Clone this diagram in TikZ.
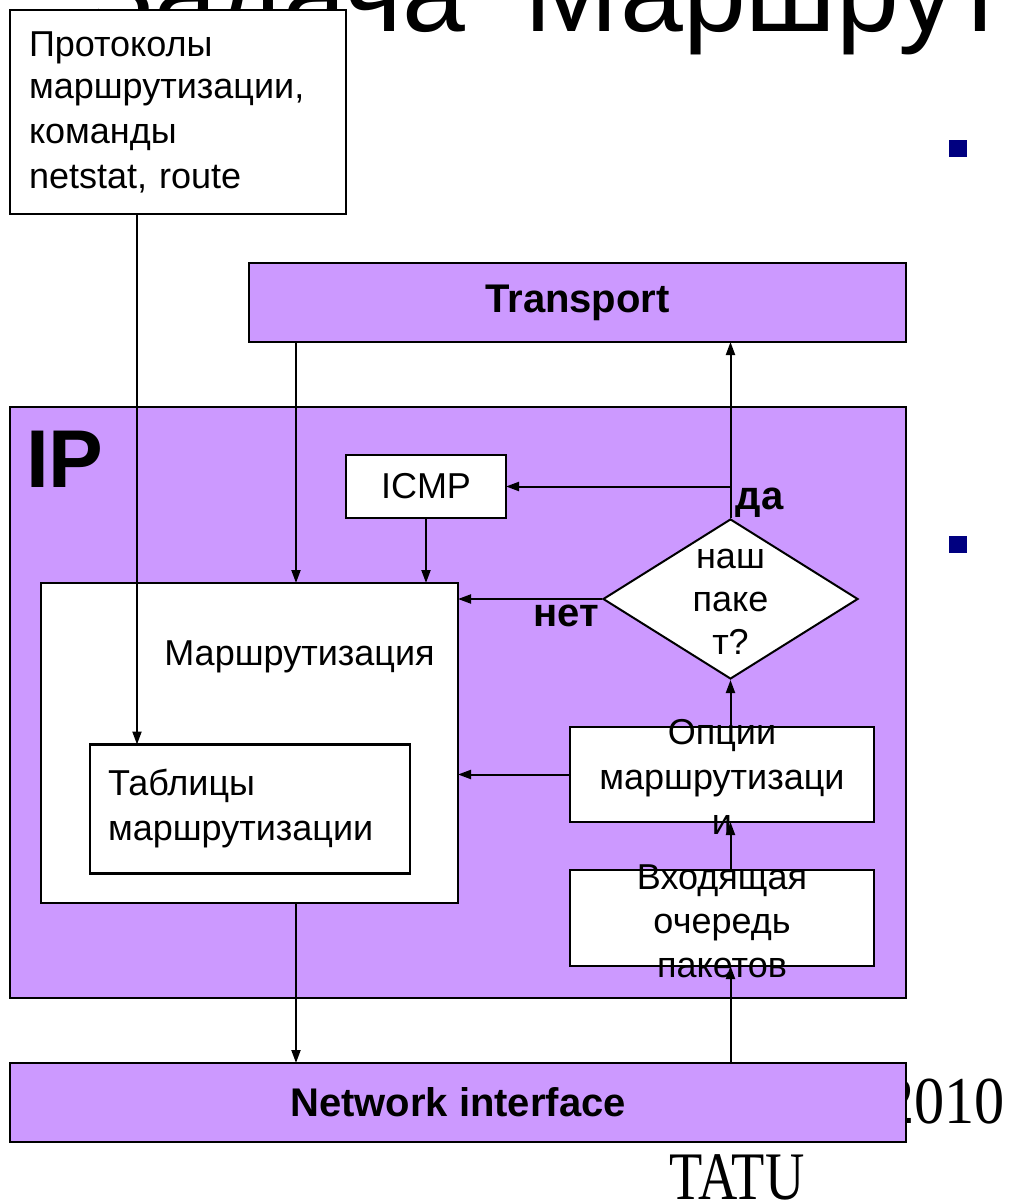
\documentclass[tikz,border=0pt]{standalone}
\usepackage{fontspec}
\setmainfont{Liberation Sans}
\newfontfamily\timesfont{Liberation Serif}
\usetikzlibrary{shapes.geometric,arrows.meta,positioning}
\definecolor{ipviolet}{HTML}{CC99FF}
\definecolor{bulletnavy}{HTML}{000080}

\begin{document}
\begin{tikzpicture}[x=1pt, y=-1pt,
    slidebox/.style={draw, line width=2.5pt, inner sep=0pt, outer sep=0pt},
    layerbox/.style={slidebox, fill=ipviolet, font=\fontsize{40}{48}\selectfont\bfseries},
    whitebox/.style={slidebox, fill=white, font=\fontsize{36}{45}\selectfont},
    flow/.style={-{Triangle[length=13pt, width=9pt]}, line width=2pt},
    answer/.style={font=\fontsize{40}{48}\selectfont\bfseries, inner sep=0pt}]

  \useasboundingbox (0,0) rectangle (1011,1202);
  \clip (0,0) rectangle (1011,1202);

  %% Slide title, mostly hidden
  \node[anchor=base west, inner sep=0pt, font=\fontsize{113}{120}\selectfont]
    (title) at (86,31) {Задача\hspace{0.25em} Маршрутизации};

  %% Slide bullets and footer
  \fill[bulletnavy] (949,140) rectangle (967,157);
  \fill[bulletnavy] (949,536) rectangle (967,553);
  \node[anchor=base east, inner sep=0pt, xscale=0.9,
        font=\timesfont\fontsize{67}{72}\selectfont] (year) at (1005,1123) {2010};
  \node[anchor=base, inner sep=0pt, xscale=0.8,
        font=\timesfont\fontsize{68}{72}\selectfont] (tatu) at (737,1199) {TATU};

  %% Routing protocols box
  \node[whitebox, anchor=north west, minimum width=336pt, minimum height=204pt,
        text width=298pt, align=left]
    (proto) at (10,10) {\raisebox{-3pt}{Протоколы}\\маршрутизации,\\команды\\netstat, route};

  %% Transport layer
  \node[layerbox, minimum width=657pt, minimum height=79pt]
    (transport) at (577.5,302.5) {Transport};

  %% IP layer
  \node[layerbox, minimum width=896pt, minimum height=591pt] (ip) at (458,702.5) {};
  \node[anchor=base west, inner sep=0pt, font=\fontsize{82}{90}\selectfont\bfseries]
    (iptitle) at (26,487) {IP};

  %% Routing and its tables
  \node[whitebox, minimum width=417pt, minimum height=320pt,
        label={[font=\fontsize{36}{45}\selectfont, xshift=50pt, yshift=86pt]center:Маршрутизация}]
    (routing) at (249.5,743) {};
  \node[whitebox, minimum width=320pt, minimum height=129pt,
        text width=284pt, align=left]
    (tables) at (250,809) {Таблицы\\маршрутизации};

  %% ICMP
  \node[whitebox, minimum width=160pt, minimum height=63pt] (icmp) at (426,486.5) {ICMP};

  %% Decision: our packet?
  \node[diamond, draw, line width=2pt, fill=white, inner sep=0pt,
        minimum width=255pt, minimum height=160pt,
        label={[align=center, font=\fontsize{36}{43}\selectfont, yshift=-3pt]center:наш\\паке\\т?}]
    (dec) at (730.5,599) {};

  %% Options and incoming queue
  \node[whitebox, minimum width=304pt, minimum height=95pt,
        label={[align=center, font=\fontsize{36}{45}\selectfont, yshift=-2.5pt]center:Опции\\маршрутизаци\\и}]
    (opts) at (722,774.5) {};
  \node[whitebox, minimum width=304pt, minimum height=96pt, below=48pt of opts,
        label={[align=center, font=\fontsize{36}{44}\selectfont, yshift=-3pt]center:Входящая\\очередь\\пакетов}]
    (queue) {};

  %% Network interface
  \node[layerbox, minimum width=896pt, minimum height=79pt]
    (netif) at (458,1102.5) {Network interface};

  %% Arrows
  \coordinate (protoout) at ([xshift=127pt]proto.south west);
  \coordinate (transdown) at ([xshift=47pt]transport.south west);
  \draw[flow] (protoout) -- (protoout |- tables.north);
  \draw[flow] (transdown) -- (transdown |- routing.north);
  \draw[flow] (icmp.south) -- (icmp.south |- routing.north);
  \draw[flow] (routing.south -| transdown) -- (netif.north -| transdown);
  \draw[flow] (dec.north) -- (dec.north |- transport.south);
  \draw[flow] (dec.north |- icmp.east) -- (icmp.east);
  \draw[flow] (dec.west) -- (dec.west -| routing.east);
  \draw[flow] (opts.west) -- (opts.west -| routing.east);
  \draw[flow] (opts.north -| dec.south) -- (dec.south);
  \draw[flow] (queue.north -| dec.south) -- (opts.south -| dec.south);
  \draw[flow] (netif.north -| dec.south) -- (queue.south -| dec.south);

  %% Answers of the decision
  \node[answer, anchor=base west] (yes) at ([xshift=5pt, yshift=9pt]dec.north) {да};
  \node[answer, anchor=base east] (no) at ([xshift=-3pt, yshift=-27pt]dec.west) {нет};

\end{tikzpicture}
\end{document}
